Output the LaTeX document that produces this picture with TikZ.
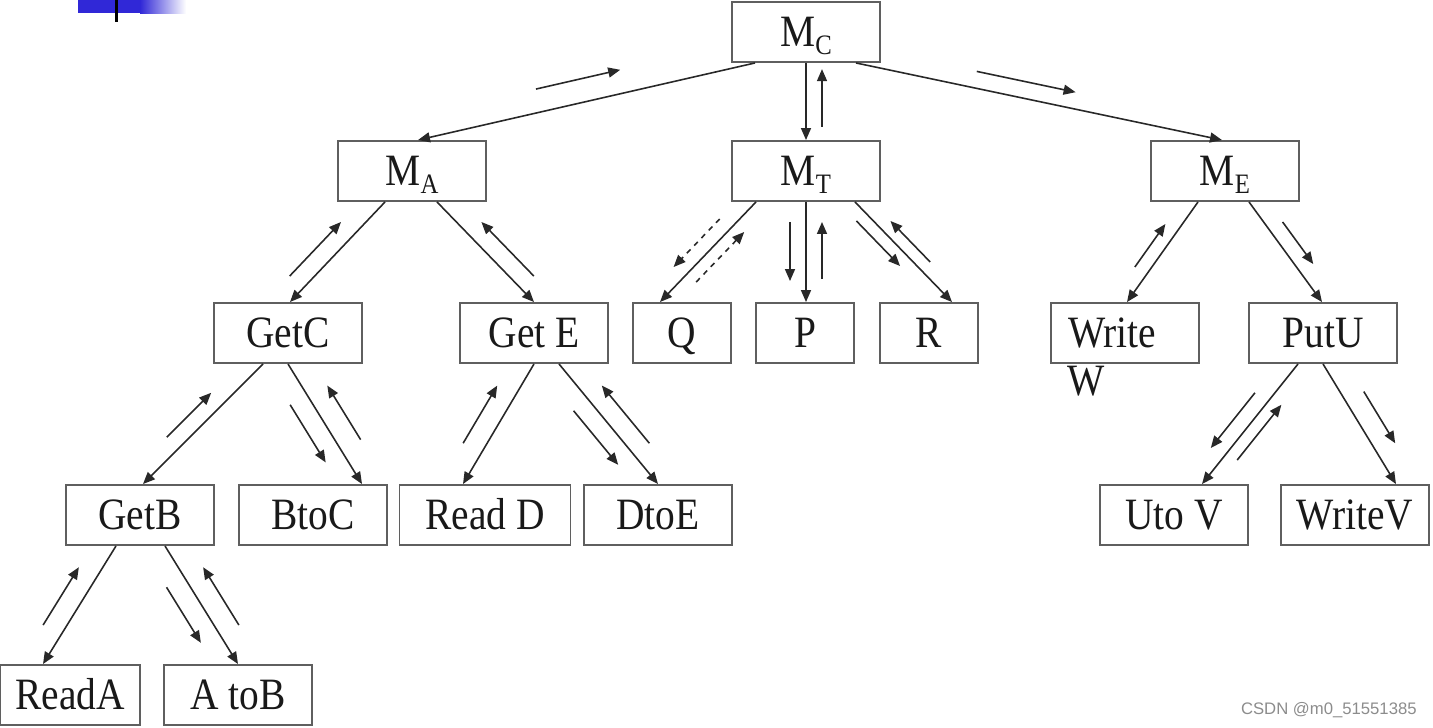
\documentclass[tikz,border=0pt]{standalone}
\usepackage{fontspec}
\setmainfont{Liberation Serif}[FakeStretch=0.88]
\newfontfamily\marksans{Liberation Sans}
\usetikzlibrary{arrows.meta,calc}
\definecolor{boxgray}{RGB}{95,95,95}
\definecolor{linegray}{RGB}{40,40,40}
\definecolor{slideblue}{RGB}{48,40,215}
% module name with subscript
\newcommand{\Msub}[1]{M\raisebox{-0.16cm}{\fontsize{16}{17}\selectfont #1}}
% short arrow beside a link: {start}{end}{from}{to}{shift}
\newcommand{\sidearr}[5]{\draw[side] ($(#1)!#3!(#2)+#5$) -- ($(#1)!#4!(#2)+#5$);}
\begin{document}
\begin{tikzpicture}[x=0.02cm,y=-0.02cm,
    box/.style={shape=rectangle,draw=boxgray,line width=1.1pt,minimum width=2.96cm,minimum height=1.2cm,
                inner sep=0pt,text height=0.59cm,text depth=0cm,font=\fontsize{25.5}{29}\selectfont,text=black!90},
    small/.style={box,minimum width=1.96cm},
    link/.style={draw=linegray,line width=0.9pt,-{Triangle[length=2.4mm,width=2mm]}},
    side/.style={link}]
    \useasboundingbox (0,0) rectangle (1433,727);
    % slide decoration
    \fill[slideblue] (78,0) rectangle (140,13);
    \shade[left color=slideblue,right color=white] (140,0) rectangle (186,13);
    \draw[line width=0.06cm] (116,0) -- (116,22);
    \node[box] (mc) at (806,32) {\Msub{C}};
    \node[box] (ma) at (412,171) {\Msub{A}};
    \node[box] (mt) at (806,171) {\Msub{T}};
    \node[box] (me) at (1225,171) {\Msub{E}};
    \node[box] (getc) at (288,333) {GetC};
    \node[box] (gete) at (534,333) {Get E};
    \node[small] (q) at (682,333) {Q};
    \node[small] (p) at (805,333) {P};
    \node[small] (r) at (929,333) {R};
    \node[box,text width=2.28cm,align=left,inner xsep=0.34cm] (write) at (1125,333) {Write};
    \node[anchor=base west,inner sep=0pt,font=\fontsize{25.5}{29}\selectfont,text=black!90] (writew) at ($(write.south west)+(17,32)$) {W};
    \node[box] (putu) at (1323,333) {PutU};
    \node[box] (getb) at (140,515) {GetB};
    \node[box] (btoc) at (313,515) {BtoC};
    \node[box,minimum width=3.42cm] (readd) at (485,515) {Read D};
    \node[box] (dtoe) at (658,515) {DtoE};
    \node[box] (utov) at (1174,515) {Uto V};
    \node[box] (writev) at (1355,515) {WriteV};
    \node[box,minimum width=2.8cm] (reada) at (70,695) {ReadA};
    \node[box] (atob) at (238,695) {A toB};
    % calls
    \draw[link] ($(mc.south)+(-51,0)$) coordinate (ca1) -- ($(ma.north)+(6,0)$) coordinate (ca2);
    \draw[link] (mc.south) coordinate (ct1) -- (mt.north) coordinate (ct2);
    \draw[link] ($(mc.south)+(50,0)$) coordinate (ce1) -- ($(me.north)+(-3,0)$) coordinate (ce2);
    \draw[link] ($(ma.south)+(-27,0)$) coordinate (ag1) -- ($(getc.north)+(2,0)$) coordinate (ag2);
    \draw[link] ($(ma.south)+(25,0)$) coordinate (ae1) -- (gete.north) coordinate (ae2);
    \draw[link] ($(mt.south)+(-50,0)$) coordinate (tq1) -- ($(q.north)+(-22,0)$) coordinate (tq2);
    \draw[link] (mt.south) coordinate (tp1) -- ($(p.north)+(1,0)$) coordinate (tp2);
    \draw[link] ($(mt.south)+(49,0)$) coordinate (tr1) -- ($(r.north)+(23,0)$) coordinate (tr2);
    \draw[link] ($(me.south)+(-27,0)$) coordinate (ew1) -- ($(write.north)+(2,0)$) coordinate (ew2);
    \draw[link] ($(me.south)+(24,0)$) coordinate (eu1) -- ($(putu.north)+(-1,0)$) coordinate (eu2);
    \draw[link] ($(getc.south)+(-25,0)$) coordinate (cb1) -- ($(getb.north)+(3,0)$) coordinate (cb2);
    \draw[link] (getc.south) coordinate (cc1) -- ($(btoc.north)+(49,0)$) coordinate (cc2);
    \draw[link] (gete.south) coordinate (er1) -- ($(readd.north)+(-22,0)$) coordinate (er2);
    \draw[link] ($(gete.south)+(25,0)$) coordinate (ed1) -- (dtoe.north) coordinate (ed2);
    \draw[link] ($(putu.south)+(-25,0)$) coordinate (uv1) -- ($(utov.north)+(28,0)$) coordinate (uv2);
    \draw[link] (putu.south) coordinate (uw1) -- ($(writev.north)+(41,0)$) coordinate (uw2);
    \draw[link] ($(getb.south)+(-24,0)$) coordinate (ba1) -- ($(reada.north)+(-27,0)$) coordinate (ba2);
    \draw[link] ($(getb.south)+(25,0)$) coordinate (bb1) -- (atob.north) coordinate (bb2);
    % data flow beside the calls
    \sidearr{ca1}{ca2}{.65}{.40}{(0,-24)}
    \sidearr{ct1}{ct2}{.83}{.08}{(16,0)}
    \sidearr{ce1}{ce2}{.33}{.60}{(0,-17)}
    \sidearr{ag1}{ag2}{.74}{.20}{(-25,0)}
    \sidearr{ae1}{ae2}{.74}{.20}{(25,0)}
    \begin{scope}[side/.append style={dashed}]
    \sidearr{tq1}{tq2}{.17}{.65}{(-20,0)}
    \sidearr{tq1}{tq2}{.80}{.30}{(17,0)}
    \end{scope}
    \sidearr{tp1}{tp2}{.20}{.79}{(-16,0)}
    \sidearr{tp1}{tp2}{.77}{.20}{(16,0)}
    \sidearr{tr1}{tr2}{.19}{.64}{(-17,0)}
    \sidearr{tr1}{tr2}{.60}{.19}{(17,0)}
    \sidearr{ew1}{ew2}{.65}{.22}{(-17,0)}
    \sidearr{eu1}{eu2}{.20}{.62}{(19,0)}
    \sidearr{cb1}{cb2}{.61}{.24}{(-23,0)}
    \sidearr{cc1}{cc2}{.34}{.82}{(-23,0)}
    \sidearr{cc1}{cc2}{.63}{.18}{(26,0)}
    \sidearr{er1}{er2}{.66}{.18}{(-24,0)}
    \sidearr{ed1}{ed2}{.39}{.84}{(-24,0)}
    \sidearr{ed1}{ed2}{.66}{.18}{(25,0)}
    \sidearr{uv1}{uv2}{.24}{.70}{(-20,0)}
    \sidearr{uv1}{uv2}{.80}{.34}{(16,0)}
    \sidearr{uw1}{uw2}{.23}{.66}{(24,0)}
    \sidearr{ba1}{ba2}{.67}{.18}{(-24,0)}
    \sidearr{bb1}{bb2}{.35}{.82}{(-24,0)}
    \sidearr{bb1}{bb2}{.67}{.18}{(25,0)}
    \node[anchor=base east,inner sep=0pt,font=\marksans\fontsize{9.5}{11}\selectfont,text=black!45] (mark) at (1417,714) {CSDN @m0\_51551385};
\end{tikzpicture}
\end{document}
